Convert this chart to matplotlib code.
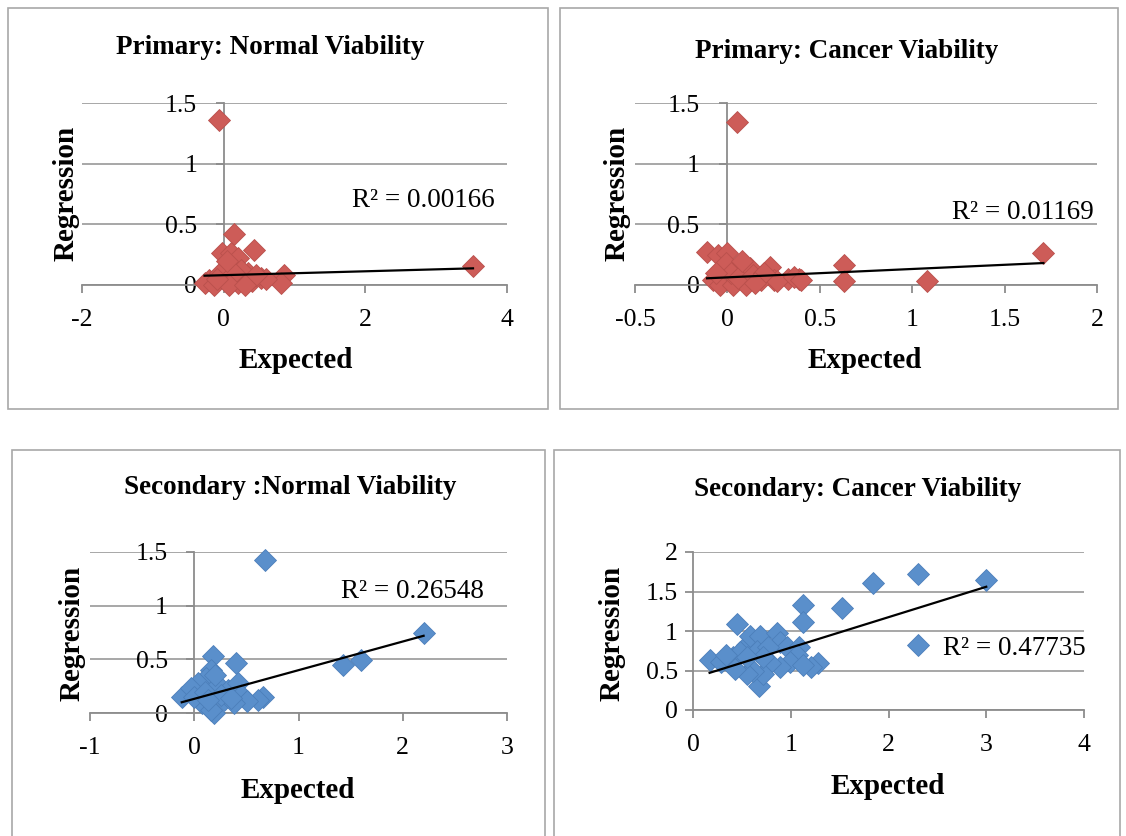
import matplotlib
matplotlib.use("Agg")
import matplotlib.pyplot as plt
from matplotlib.patches import Rectangle
from matplotlib.ticker import FuncFormatter
import numpy as np

plt.rcParams["font.family"] = ["Liberation Serif", "DejaVu Serif"]

W, H = 1126, 836

# ---- data ----
p1_x = [-0.07, 0.15, 0.43, 3.52, 0.85, 0.81, -0.03, 0.11, 0.20, -0.21, -0.27, -0.13, 0.53,
        0.35, 0.05, 0.00, 0.10, 0.20, 0.30, 0.25, -0.05, 0.15, 0.40, 0.60, 0.45, 0.08, -0.10,
        0.05, 0.30]
p1_y = [1.36, 0.42, 0.29, 0.16, 0.08, 0.02, 0.26, 0.26, 0.22, 0.04, 0.02, 0.00, 0.06,
        0.10, 0.15, 0.08, 0.05, 0.02, 0.05, 0.12, 0.10, 0.10, 0.03, 0.05, 0.08, 0.00, 0.05,
        0.20, 0.00]
p1_trend = (0.016, 0.081)
p1_r2 = "R² = 0.00166"

p2_x = [0.05, 1.71, 1.08, 0.63, 0.63, 0.39, 0.33, 0.23, 0.25, -0.11, -0.05, 0.00, -0.01,
        0.07, 0.12, 0.18, -0.08, -0.04, 0.03, 0.10, 0.27, 0.36, 0.40, 0.02, 0.06, -0.06,
        0.14, 0.20, 0.08, 0.15]
p2_y = [1.34, 0.26, 0.035, 0.165, 0.035, 0.047, 0.047, 0.15, 0.04, 0.27, 0.25, 0.26, 0.18,
        0.15, 0.14, 0.04, 0.04, 0.00, 0.00, 0.00, 0.03, 0.07, 0.04, 0.10, 0.06, 0.10,
        0.08, 0.10, 0.20, 0.02]
p2_trend = (0.069, 0.063)
p2_r2 = "R² = 0.01169"

p3_x = [0.68, 2.20, 1.60, 1.43, 0.40, 0.18, 0.66, 0.61, -0.12, 0.19, 0.16, 0.11, 0.04,
        -0.03, 0.23, 0.32, 0.42, 0.45, 0.51, 0.07, 0.16, 0.29, 0.38, 0.00, 0.10, 0.26,
        0.20, 0.13, 0.35]
p3_y = [1.43, 0.75, 0.49, 0.45, 0.47, 0.53, 0.15, 0.12, 0.15, 0.00, 0.40, 0.33, 0.28,
        0.23, 0.26, 0.21, 0.28, 0.17, 0.11, 0.09, 0.03, 0.12, 0.09, 0.15, 0.20, 0.17,
        0.35, 0.12, 0.14]
p3_trend = (0.267, 0.132)
p3_r2 = "R² = 0.26548"

p4_x = [3.00, 2.30, 1.84, 1.52, 1.13, 1.13, 0.45, 0.68, 0.17, 1.28, 1.21, 0.29, 0.41,
        0.55, 0.58, 0.69, 0.86, 0.89, 0.96, 1.08, 1.06, 0.99, 0.89, 0.79, 0.72, 0.61,
        0.55, 0.43, 0.48, 0.65, 0.77, 0.72, 0.55, 1.13, 0.34]
p4_y = [1.65, 1.72, 1.61, 1.29, 1.33, 1.11, 1.09, 0.31, 0.63, 0.59, 0.54, 0.61, 0.67,
        0.82, 0.94, 0.94, 0.98, 0.86, 0.80, 0.80, 0.69, 0.61, 0.54, 0.59, 0.46, 0.50,
        0.46, 0.52, 0.73, 0.75, 0.80, 0.67, 0.67, 0.57, 0.69]
p4_trend = (0.385, 0.405)
p4_r2 = "R² = 0.47735"

red = "#CD5C58"
red_edge = "#B9504C"
blue = "#5A8FCB"
blue_edge = "#4C7FBA"
grey = "#A0A0A0"

TICK_FS = 18.5
R2_FS = 19.5
TITLE_FS = 19.5
LABEL_FS = 21


def px(x, y):
    return x / W, 1 - y / H


def add_box(x0, y0, x1, y1):
    fx0, fy1 = px(x0, y0)
    fx1, fy0 = px(x1, y1)
    fig.patches.append(Rectangle((fx0, fy0), fx1 - fx0, fy1 - fy0, transform=fig.transFigure,
                                 fill=False, edgecolor="#A8A8A8", lw=1.2))


def make_axes(l, t, r, b):
    fl, ft = px(l, t)
    fr, fb = px(r, b)
    return fig.add_axes([fl, fb, fr - fl, ft - fb])


def style(ax, xlim, xticks, ylim, yticks, ypad):
    ax.set_xlim(xlim)
    ax.set_ylim(ylim)
    ax.set_xticks(xticks)
    ax.set_yticks(yticks)
    fmt = FuncFormatter(lambda v, p: "{:g}".format(v))
    ax.xaxis.set_major_formatter(fmt)
    ax.yaxis.set_major_formatter(fmt)
    for s in ["top", "right"]:
        ax.spines[s].set_visible(False)
    ax.spines["left"].set_position(("data", 0))
    for s in ["left", "bottom"]:
        ax.spines[s].set_color("#8C8C8C")
        ax.spines[s].set_linewidth(1.3)
        ax.spines[s].set_zorder(1)
    ax.yaxis.grid(True, color=grey, lw=1.3)
    ax.set_axisbelow(True)
    ax.tick_params(axis="x", direction="out", length=6, width=1.3, color="#8C8C8C",
                   labelsize=TICK_FS, pad=11)
    ax.tick_params(axis="y", direction="out", length=6, width=1.3, color="#8C8C8C",
                   labelsize=TICK_FS, pad=ypad)
    ax.patch.set_alpha(0)


def scatter_panel(ax, xs, ys, trend, col, edge):
    ax.plot(xs, ys, linestyle="none", marker="D", ms=11, color=col,
            markeredgecolor=edge, markeredgewidth=0.6, zorder=3, clip_on=False)
    slope, icpt = trend
    tx = np.array([min(xs), max(xs)])
    ax.plot(tx, slope * tx + icpt, color="black", lw=1.6, zorder=4)


fig = plt.figure(figsize=(W / 100, H / 100), dpi=100)

add_box(8, 8, 548, 409)
add_box(560, 8, 1118, 409)
add_box(12, 450, 545, 860)
add_box(554, 450, 1120, 860)

# Primary: Normal
ax1 = make_axes(82, 103, 507, 285)
style(ax1, (-2, 4), [-2, 0, 2, 4], (0, 1.5), [0, 0.5, 1, 1.5], 13)
scatter_panel(ax1, p1_x, p1_y, p1_trend, red, red_edge)
ax1.text(0.97, 0.462, p1_r2, transform=ax1.transAxes, ha="right", va="center", fontsize=R2_FS)

# Primary: Cancer
ax2 = make_axes(635, 103, 1097, 285)
style(ax2, (-0.5, 2), [-0.5, 0, 0.5, 1, 1.5, 2], (0, 1.5), [0, 0.5, 1, 1.5], 14)
scatter_panel(ax2, p2_x, p2_y, p2_trend, red, red_edge)
ax2.text(0.993, 0.396, p2_r2, transform=ax2.transAxes, ha="right", va="center", fontsize=R2_FS)

# Secondary: Normal
ax3 = make_axes(90, 552, 507, 713)
style(ax3, (-1, 3), [-1, 0, 1, 2, 3], (0, 1.5), [0, 0.5, 1, 1.5], 13)
scatter_panel(ax3, p3_x, p3_y, p3_trend, blue, blue_edge)
ax3.text(0.945, 0.752, p3_r2, transform=ax3.transAxes, ha="right", va="center", fontsize=R2_FS)

# Secondary: Cancer
ax4 = make_axes(693, 552, 1084, 710)
style(ax4, (0, 4), [0, 1, 2, 3, 4], (0, 2), [0, 0.5, 1, 1.5, 2], 5)
scatter_panel(ax4, p4_x, p4_y, p4_trend, blue, blue_edge)
ax4.plot([0.575], [0.411], linestyle="none", marker="D", ms=11, color=blue,
         markeredgecolor=blue_edge, markeredgewidth=0.6, transform=ax4.transAxes, clip_on=False)
ax4.text(0.64, 0.392, p4_r2, transform=ax4.transAxes, ha="left", va="center", fontsize=R2_FS)

# titles and axis labels
titles = ["Primary: Normal Viability", "Primary: Cancer Viability",
          "Secondary :Normal Viability", "Secondary: Cancer Viability"]
title_pos = [(270, 47), (847, 52), (290, 487), (858, 490)]
xlabel_pos = [(296, 360), (865, 360), (298, 790), (888, 787)]
ylabel_pos = [(66, 193), (617, 193), (72, 633), (612, 633)]

for t, tp, xp, yp in zip(titles, title_pos, xlabel_pos, ylabel_pos):
    fig.text(*px(*tp), t, ha="center", va="center", fontsize=TITLE_FS, fontweight="bold")
    fig.text(*px(*xp), "Expected", ha="center", va="center", fontsize=LABEL_FS, fontweight="bold")
    fig.text(*px(*yp), "Regression", ha="center", va="center", fontsize=LABEL_FS,
             fontweight="bold", rotation=90)

fig.savefig("out.png", dpi=100)
